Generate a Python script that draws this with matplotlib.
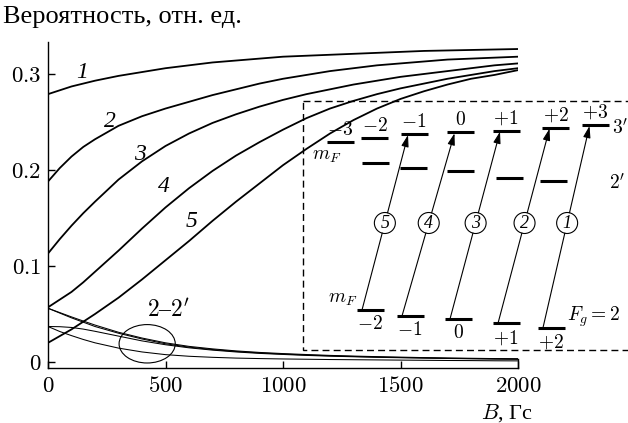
import numpy as np
import matplotlib
matplotlib.use("Agg")
import matplotlib.pyplot as plt
from matplotlib.patches import Ellipse, Circle, Rectangle

plt.rcParams["font.family"] = ["Liberation Serif", "DejaVu Serif"]
plt.rcParams["mathtext.fontset"] = "cm"

# magnetic field, G
B = [0, 50, 100, 150, 200, 300, 400, 500, 600, 700, 800, 900, 1000,
     1100, 1200, 1300, 1400, 1500, 1600, 1700, 1800, 1900, 2000]

# transition probabilities 3-3' (curves 1..5)
p1 = [0.279, 0.283, 0.287, 0.290, 0.293, 0.298, 0.302, 0.306, 0.309, 0.312, 0.314, 0.316,
      0.318, 0.319, 0.320, 0.321, 0.322, 0.323, 0.324, 0.3245, 0.325, 0.3255, 0.326]
p2 = [0.188, 0.202, 0.214, 0.224, 0.232, 0.246, 0.256, 0.264, 0.271, 0.278, 0.284, 0.290,
      0.295, 0.299, 0.303, 0.306, 0.309, 0.311, 0.313, 0.315, 0.316, 0.317, 0.318]
p3 = [0.113, 0.128, 0.142, 0.155, 0.167, 0.190, 0.209, 0.225, 0.238, 0.249, 0.258, 0.266,
      0.273, 0.279, 0.284, 0.289, 0.293, 0.297, 0.300, 0.303, 0.306, 0.309, 0.311]
p4 = [0.057, 0.065, 0.073, 0.083, 0.094, 0.116, 0.139, 0.161, 0.181, 0.199, 0.215, 0.229,
      0.242, 0.254, 0.264, 0.272, 0.279, 0.285, 0.290, 0.295, 0.299, 0.303, 0.306]
p5 = [0.020, 0.027, 0.034, 0.042, 0.050, 0.067, 0.086, 0.106, 0.126, 0.147, 0.167, 0.186,
      0.205, 0.222, 0.238, 0.252, 0.264, 0.274, 0.282, 0.289, 0.295, 0.299, 0.304]
main_curves = [p1, p2, p3, p4, p5]

# 2-2' transitions
q1 = [0.056, 0.051, 0.046, 0.0415, 0.037, 0.030, 0.024, 0.019, 0.0155, 0.013, 0.011, 0.0095,
      0.0083, 0.0073, 0.0065, 0.0058, 0.0052, 0.0047, 0.0043, 0.0039, 0.0036, 0.0033, 0.0031]
q2 = [0.056, 0.0515, 0.047, 0.0427, 0.0385, 0.031, 0.025, 0.020, 0.0163, 0.0137, 0.0116, 0.0100,
      0.0088, 0.0078, 0.0069, 0.0062, 0.0056, 0.0051, 0.0046, 0.0042, 0.0039, 0.0036, 0.0034]
q3 = [0.037, 0.0368, 0.036, 0.0343, 0.032, 0.027, 0.022, 0.018, 0.0148, 0.0124, 0.0105, 0.0090,
      0.0079, 0.0069, 0.0061, 0.0055, 0.0049, 0.0045, 0.0041, 0.0037, 0.0034, 0.0031, 0.0029]
q4 = [0.037, 0.0318, 0.0275, 0.0235, 0.020, 0.0145, 0.0105, 0.0077, 0.0060, 0.0049, 0.0041, 0.0036,
      0.0032, 0.0029, 0.0026, 0.0024, 0.0022, 0.0020, 0.0018, 0.0016, 0.0015, 0.0013, 0.0012]
low_curves = [q1, q2, q3, q4]

curve_labels = ["1", "2", "3", "4", "5"]
label_pos = [(144, 0.302), (264, 0.250), (392, 0.216), (492, 0.183), (613, 0.146)]

x_ticks = [0, 500, 1000, 1500, 2000]
y_ticks = [0, 0.1, 0.2, 0.3]
y_ticklabels = ["0", "0.1", "0.2", "0.3"]

# level scheme: m_F of each sublevel
mF_top = [-3, -2, -1, 0, 1, 2, 3]
mF_mid = [-2, -1, 0, 1, 2]
mF_gnd = [-2, -1, 0, 1, 2]
# transitions numbered as the curves: ground m_F -> excited m_F
trans_num = ["5", "4", "3", "2", "1"]
trans_from = [-2, -1, 0, 1, 2]
trans_to = [-1, 0, 1, 2, 3]

W, H = 628, 423
fig = plt.figure(figsize=(W / 100, H / 100), dpi=100)
ax = fig.add_axes([48 / W, 1 - 367.5 / H, 470 / W, 325.5 / H])

for c in main_curves:
    ax.plot(B, c, color="black", lw=1.3)
for c in low_curves:
    ax.plot(B, c, color="black", lw=0.75)

for t, (xb, yv) in zip(curve_labels, label_pos):
    ax.text(xb, yv, t, fontsize=17, style="italic", ha="center", va="center")
ax.text(513, 0.054, r"$2$–$2'$", fontsize=17, ha="center", va="center")
ax.add_patch(Ellipse((422, 0.019), 239, 0.04, fill=False, lw=0.8))

ax.set_xlim(0, 2000)
ax.set_ylim(-0.0057, 0.3333)
ax.set_xticks(x_ticks)
ax.set_xticklabels(["$%d$" % t for t in x_ticks], fontsize=16.5)
ax.set_yticks(y_ticks)
ax.set_yticklabels(["$%s$" % t for t in y_ticklabels], fontsize=16.5)
ax.tick_params(direction="in", length=5, width=1, pad=5)
ax.tick_params(axis="x", pad=6)
ax.spines["top"].set_visible(False)
ax.spines["right"].set_bounds(-0.0057, 0.003)
for s in ax.spines.values():
    s.set_linewidth(1.0)
ax.patch.set_alpha(0)

# overlay in pixel coordinates for captions and the level scheme
dg = fig.add_axes([0, 0, 1, 1], zorder=5)
dg.set_xlim(0, W)
dg.set_ylim(H, 0)
dg.axis("off")
dg.patch.set_alpha(0)

dg.text(3, 17, "Вероятность, отн. ед.", fontsize=19, ha="left", va="center")
dg.text(507, 419, "$B$, Гс", fontsize=16, ha="center", va="baseline")

dg.add_patch(Rectangle((302.5, 101), 400, 249, fill=False, ls=(0, (5, 3)), lw=1.0))

top_x = [340, 374.5, 414, 460.5, 506, 555.5, 595.5]
top_y = [141.7, 137.7, 134, 132.3, 130.7, 127.7, 125]
mid_x = [375, 413, 460, 509, 553.5]
mid_y = [163.3, 167.7, 171, 177.7, 181]
gnd_x = [370, 410, 458, 506, 551]
gnd_y = [310, 316, 319, 323.3, 327.7]
hw = 13.5

for m, x, y in zip(mF_top, top_x, top_y):
    dg.plot([x - hw, x + hw], [y, y], color="black", lw=2.2, solid_capstyle="butt")
    dg.text(x, y - 3, "$%+d$" % m if m else "$0$", fontsize=14, ha="center", va="bottom")
for m, x, y in zip(mF_mid, mid_x, mid_y):
    dg.plot([x - hw, x + hw], [y, y], color="black", lw=2.2, solid_capstyle="butt")
for m, x, y in zip(mF_gnd, gnd_x, gnd_y):
    dg.plot([x - hw, x + hw], [y, y], color="black", lw=2.2, solid_capstyle="butt")
    dg.text(x, y + 5, "$%+d$" % m if m else "$0$", fontsize=14, ha="center", va="top")

dg.text(620, 128, "$3'$", fontsize=14, ha="center", va="center")
dg.text(617, 183, "$2'$", fontsize=14, ha="center", va="center")
dg.text(327, 157, "$m_F$", fontsize=14, ha="center", va="center")
dg.text(343, 299, "$m_F$", fontsize=14, ha="center", va="center")
dg.text(567, 317, "$F_g = 2$", fontsize=14, ha="left", va="center")

yc, r = 223, 10.5
for num, mf0, mf1 in zip(trans_num, trans_from, trans_to):
    i0 = mF_gnd.index(mf0)
    i1 = mF_top.index(mf1)
    x0, y0 = gnd_x[i0] - 8, gnd_y[i0]
    x1, y1 = top_x[i1] - 6, top_y[i1] + 1
    t = (y0 - yc) / (y0 - y1)
    xc = x0 + t * (x1 - x0)
    L = np.hypot(x1 - x0, y1 - y0)
    ux, uy = (x1 - x0) / L, (y1 - y0) / L
    dg.plot([x0, xc - r * ux], [y0, yc - r * uy], color="black", lw=0.8)
    dg.annotate("", xy=(x1, y1), xytext=(xc + r * ux, yc + r * uy),
                arrowprops=dict(arrowstyle="-|>,head_length=0.7,head_width=0.22",
                                color="black", lw=0.8, shrinkA=0, shrinkB=0))
    dg.add_patch(Circle((xc, yc), r, facecolor="white", edgecolor="black", lw=0.8))
    dg.text(xc, yc, num, fontsize=13, style="italic", ha="center", va="center")

fig.savefig("out.png", dpi=100)
